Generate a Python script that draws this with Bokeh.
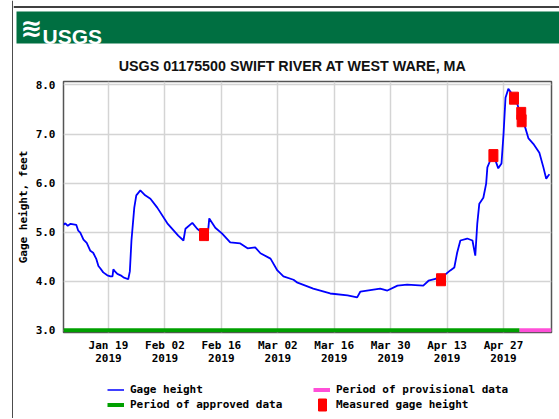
from bokeh.plotting import figure
from bokeh.models import Legend, LegendItem, FixedTicker, Range1d
from bokeh.layouts import row, column
from bokeh.embed import file_html
from bokeh.resources import INLINE
from bokeh.core.properties import value

# x values are day offsets from 2019-01-01 (day 0 = Jan 01 2019)
gage_days = [6.84, 7.3, 7.9, 8.6, 9.3, 10.0, 10.5, 11.0, 11.8, 12.6, 13.5, 14.2, 15.0,
             15.5, 16.0, 16.7, 17.7, 18.5, 19.0, 19.2, 19.6, 20.2, 21.0, 21.7, 22.9,
             23.3, 23.7, 24.4, 24.9, 25.9, 26.5, 27.1, 28.4, 30.1, 32.6, 35.3, 36.6,
             37.1, 38.8, 40.0, 41.5, 42.5, 43.0, 44.5, 46.2, 48.2, 50.7, 52.5, 54.4,
             55.7, 58.2, 59.9, 61.4, 63.9, 64.9, 68.8, 73.0, 77.3, 79.7, 80.5, 85.4,
             87.2, 89.7, 92.1, 96.1, 97.4, 99.1, 100.6, 101.6, 102.8, 103.8, 104.5,
             105.3, 107.0, 108.3, 109.0, 109.5, 110.0, 111.0, 111.7, 112.0, 112.7,
             113.5, 114.7, 115.5, 116.0, 116.5, 117.2, 117.9, 118.4, 119.4, 120.4,
             121.4, 122.2, 123.4, 124.9, 125.9, 126.6, 127.1, 127.4]
gage_ft = [5.15, 5.18, 5.13, 5.17, 5.16, 5.15, 5.03, 4.99, 4.85, 4.78, 4.62, 4.58, 4.45,
           4.31, 4.26, 4.18, 4.12, 4.10, 4.10, 4.24, 4.20, 4.15, 4.12, 4.08, 4.04,
           4.20, 4.83, 5.50, 5.75, 5.85, 5.80, 5.75, 5.68, 5.50, 5.18, 4.93, 4.83,
           5.07, 5.19, 5.07, 4.97, 4.83, 5.28, 5.09, 4.97, 4.79, 4.77, 4.67, 4.69,
           4.57, 4.46, 4.22, 4.10, 4.03, 3.97, 3.85, 3.75, 3.71, 3.67, 3.79, 3.85,
           3.81, 3.91, 3.93, 3.91, 4.01, 4.05, 4.05, 4.14, 4.22, 4.28, 4.58,
           4.83, 4.87, 4.83, 4.52, 5.18, 5.58, 5.70, 5.99, 6.32, 6.46,
           6.58, 6.30, 6.40, 6.99, 7.74, 7.92, 7.84, 7.72, 7.62, 7.33,
           7.13, 6.91, 6.80, 6.62, 6.32, 6.09, 6.15, 6.18]

meas_days = [41.7, 100.5, 113.5, 118.6, 120.4, 120.5]
meas_ft = [4.95, 4.03, 6.56, 7.73, 7.42, 7.27]

approved_days = [6.84, 120.0]
provisional_days = [120.0, 127.91]
period_ft = [3.0, 3.0]

x_tick_days = [18, 32, 46, 60, 74, 88, 102, 116]
x_tick_labels = ["Jan 19\n2019", "Feb 02\n2019", "Feb 16\n2019", "Mar 02\n2019",
                 "Mar 16\n2019", "Mar 30\n2019", "Apr 13\n2019", "Apr 27\n2019"]
y_ticks = [3, 4, 5, 6, 7, 8]
y_tick_labels = ["3.0", "4.0", "5.0", "6.0", "7.0", "8.0"]

title_text = "USGS 01175500 SWIFT RIVER AT WEST WARE, MA"
agency_text = "USGS"
y_label = "Gage height, feet"
legend_labels = ["Gage height", "Period of approved data",
                 "Period of provisional data", "Measured gage height"]

MONO = "DejaVu Sans Mono"
SANS = "Liberation Sans"
BLUE, GREEN, PINK, RED = "#0000ff", "#00a000", "#ff4fd8", "#ff0000"
USGS_GREEN = "#006F41"


def blank(width, height, xr, yr):
    f = figure(width=width, height=height, output_backend="svg", toolbar_location=None,
               x_range=Range1d(*xr), y_range=Range1d(*yr), title=None,
               x_axis_location=None, y_axis_location=None,
               min_border_left=0, min_border_right=0, min_border_top=0,
               min_border_bottom=0)
    f.outline_line_color = None
    f.grid.visible = False
    f.border_fill_color = "white"
    f.background_fill_color = "white"
    return f


# ---- left strip (page border line) ----
strip = blank(13, 418, (0, 13), (418, 0))
strip.quad(left=[11.8], right=[13], top=[0], bottom=[418], fill_color="black",
           line_color=None)

# ---- header ----
head = blank(546, 76, (13, 559), (76, 0))
head.quad(left=[13], right=[559], top=[5.8], bottom=[7.3], fill_color="black",
          line_color=None)
head.quad(left=[16], right=[559], top=[11], bottom=[43], fill_color=USGS_GREEN,
          line_color=None)
head.text(x=[20], y=[27], text=["\u224b"], text_font=value("DejaVu Sans"),
          text_font_size="26px", text_color="white", text_baseline="middle",
          text_font_style="bold")
head.text(x=[42], y=[36], text=[agency_text], text_font=value(SANS),
          text_font_style="bold", text_font_size="21px", text_color="white",
          text_baseline="alphabetic")
head.text(x=[292], y=[65.5], text=[title_text], text_font=value(SANS),
          text_font_style="bold", text_font_size="14.3px", text_color="#111111",
          text_align="center", text_baseline="alphabetic")

# ---- main chart ----
p = figure(width=546, height=301, output_backend="svg", toolbar_location=None,
           title=None, x_range=Range1d(6.84, 127.91), y_range=Range1d(2.955, 8.07),
           min_border_left=50, min_border_right=8, min_border_top=5, min_border_bottom=45)
p.border_fill_color = "white"
p.background_fill_color = "white"
p.outline_line_color = "#555555"
p.outline_line_width = 1.5

p.xaxis.ticker = FixedTicker(ticks=x_tick_days)
p.xaxis.major_label_overrides = {d: l for d, l in zip(x_tick_days, x_tick_labels)}
p.yaxis.ticker = FixedTicker(ticks=y_ticks)
p.yaxis.major_label_overrides = {t: l for t, l in zip(y_ticks, y_tick_labels)}
for ax in (p.xaxis[0], p.yaxis[0]):
    ax.axis_line_color = None
    ax.major_tick_line_color = None
    ax.minor_tick_line_color = None
    ax.major_tick_out = 0
    ax.major_tick_in = 0
    ax.major_label_text_font = MONO
    ax.major_label_text_font_style = "bold"
    ax.major_label_text_font_size = "11px"
    ax.major_label_text_color = "black"
p.xaxis.major_label_standoff = 6
p.xaxis.major_label_text_line_height = 1.05
p.yaxis.major_label_standoff = 8
p.yaxis.axis_label = y_label
p.yaxis.axis_label_text_font = MONO
p.yaxis.axis_label_text_font_style = "bold"
p.yaxis.axis_label_text_font_size = "11px"
p.yaxis.axis_label_text_color = "black"
p.yaxis.axis_label_standoff = 3

p.xgrid.ticker = FixedTicker(ticks=x_tick_days)
p.ygrid.ticker = FixedTicker(ticks=y_ticks)
p.grid.grid_line_color = "#d4d4d4"
p.grid.grid_line_width = 1.5

p.line(approved_days, period_ft, line_color=GREEN, line_width=4)
p.line(provisional_days, period_ft, line_color=PINK, line_width=4)
p.line(gage_days, gage_ft, line_color=BLUE, line_width=1.8)
p.rect(meas_days, meas_ft, width=9, height=12, width_units="screen",
       height_units="screen", fill_color=RED, line_color=RED)

# ---- legend panel ----
leg = blank(546, 41, (13, 559), (418, 377))
nan = [float("nan")]
l_gage = leg.line(nan, nan, line_color=BLUE, line_width=1.5)
l_app = leg.line(nan, nan, line_color=GREEN, line_width=4)
l_prov = leg.line(nan, nan, line_color=PINK, line_width=4)
l_meas = leg.rect(nan, nan, width=1, height=1, fill_color=RED, line_color=RED)


def make_legend(items, loc, gw=17, standoff=6):
    lg = Legend(items=items, location=loc, orientation="vertical",
                glyph_width=gw, glyph_height=15, label_height=15, spacing=0,
                padding=0, margin=0, label_standoff=standoff,
                border_line_color=None, background_fill_alpha=0,
                label_text_font=MONO, label_text_font_style="bold",
                label_text_font_size="11px", label_text_color="black")
    leg.add_layout(lg, "center")


make_legend([LegendItem(label=legend_labels[0], renderers=[l_gage]),
             LegendItem(label=legend_labels[1], renderers=[l_app])], (94, 6))
make_legend([LegendItem(label=legend_labels[2], renderers=[l_prov])], (300, 21))
make_legend([LegendItem(label=legend_labels[3], renderers=[l_meas])], (304, 6),
            gw=10, standoff=9)

layout = row(strip, column(row(head), p, row(leg)))
open("out.html", "w").write(file_html(layout, INLINE))
